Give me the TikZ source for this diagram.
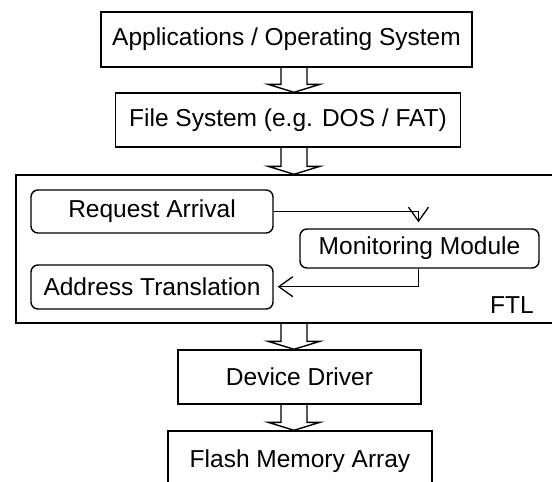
\documentclass[tikz,border=0pt]{standalone}
\usepackage{fontspec}
\setmainfont{Liberation Sans}
\usetikzlibrary{calc,arrows.meta}
\begin{document}
\begin{tikzpicture}[x=1pt,y=-1pt,
  every node/.style={font=\fontsize{24.5}{28}\selectfont},
  layer/.style={draw,line width=1.4pt,inner sep=0pt,rectangle},
  unit/.style={draw,line width=1.4pt,inner sep=0pt,rectangle,rounded corners=7pt},
  flow/.style={line width=1.3pt,-{Straight Barb[length=14pt,width=20pt,line width=1.3pt]}},
  hollow/.style={line width=1.4pt,line join=miter}]
\clip (0,0) rectangle (552,482);
\fill[white] (0,0) rectangle (552,482);

% stacked layers
\node[layer,minimum width=371pt,minimum height=55pt] (apps) at (286.5,39.5) {Applications / Operating System};
\node[layer,minimum width=345pt,minimum height=54pt] (fs) at (288,120) {File System (e.g. DOS / FAT)};
\node[layer,minimum width=556pt,minimum height=148pt] (ftl) at (294,249) {};
\node (ftllabel) at (512,305) {FTL};
\node[layer,minimum width=243pt,minimum height=54pt] (drv) at (299.5,377) {Device Driver};
\node[layer,minimum width=264pt,minimum height=60pt] (flash) at (300,461) {Flash Memory Array};

% modules inside the FTL
\node[unit,minimum width=242pt,minimum height=43pt] (req) at (152,211.5) {Request Arrival};
\node[unit,minimum width=239pt,minimum height=39pt] (mon) at (419.5,248.5) {Monitoring Module};
\node[unit,minimum width=242pt,minimum height=44pt] (addr) at (152,287) {Address Translation};

\coordinate (mtop) at ($(mon.north)+(-1,-6)$);
\draw[flow] (req.east) -- (req.east -| mtop) -- (mtop);
\coordinate (mbot) at ($(mon.south)+(-1,18)$);
\draw[flow] ($(mon.south)+(-1,0)$) -- (mbot) -- ($(mbot -| addr.east)+(4,0)$);

% hollow block arrows between layers, centred on a common axis
\coordinate (axis) at (294,0);
\newcommand{\blockarrow}[2]{%
  \draw[hollow] ($(#1.south -| axis)+(-13,0)$) -- ($(#2.north -| axis)+(-13,-8)$)
    -- ($(#2.north -| axis)+(-26,-8)$) -- (#2.north -| axis)
    -- ($(#2.north -| axis)+(26,-8)$) -- ($(#2.north -| axis)+(13,-8)$)
    -- ($(#1.south -| axis)+(13,0)$);}
\blockarrow{apps}{fs}
\blockarrow{fs}{ftl}
\blockarrow{ftl}{drv}
\blockarrow{drv}{flash}
\end{tikzpicture}
\end{document}
